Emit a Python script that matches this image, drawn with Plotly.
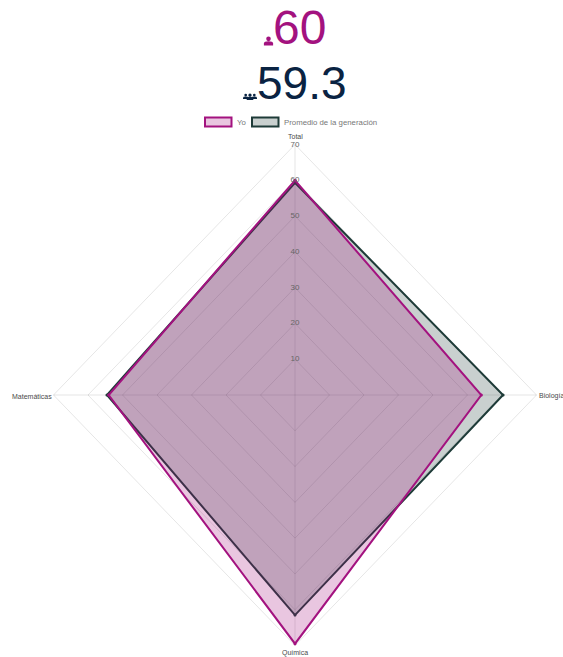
import plotly.graph_objects as go

categories = ["Total", "Biología", "Química", "Matemáticas"]
yo_values = [60, 54, 69.5, 54]
avg_values = [59.3, 60.3, 61.5, 54.5]
grid_ticks = [10, 20, 30, 40, 50, 60, 70]
yo_name = "Yo"
avg_name = "Promedio de la generación"
yo_score = "60"
avg_score = "59.3"

W, H = 563, 657
CX, CY = 295, 395
RX, RY = 241.5, 250.5
RMAX = 70
YO = "#A3127F"
AVG = "#1E3B38"
NAVY = "#0A2342"
FONT = "Liberation Sans, Arial, sans-serif"
SX = [0, 1, 0, -1]
SY = [1, 0, -1, 0]


def ring(vals):
    xs = [s * v for s, v in zip(SX, vals)]
    ys = [s * v for s, v in zip(SY, vals)]
    return xs + xs[:1], ys + ys[:1]


fig = go.Figure()
for i in range(4):
    fig.add_trace(go.Scatter(x=[0, SX[i] * RMAX], y=[0, SY[i] * RMAX], mode="lines",
                             line=dict(color="rgba(0,0,0,0.1)", width=1), hoverinfo="skip"))
for t in grid_ticks:
    x, y = ring([t] * 4)
    fig.add_trace(go.Scatter(x=x, y=y, mode="lines",
                             line=dict(color="rgba(0,0,0,0.1)", width=1), hoverinfo="skip"))
for name, vals, col, fill in [
    (avg_name, avg_values, AVG, "rgba(30,59,56,0.24)"),
    (yo_name, yo_values, YO, "rgba(163,18,127,0.24)"),
]:
    x, y = ring(vals)
    fig.add_trace(go.Scatter(x=x, y=y, mode="lines+markers", name=name, fill="toself", fillcolor=fill,
                             line=dict(color=col, width=2), marker=dict(color=col, size=3)))

fig.add_trace(go.Scatter(x=[0] * len(grid_ticks), y=grid_ticks, mode="text",
                         text=[str(t) for t in grid_ticks],
                         textfont=dict(family=FONT, size=8, color="#666666"), hoverinfo="skip"))

a = dict(xref="paper", yref="paper", showarrow=False)
def px(x): return x / W
def py(y): return 1 - y / H

LABEL = dict(family=FONT, size=7, color="#4a4a4a")
ann = [
    dict(x=px(299), y=py(27.5), text=yo_score, font=dict(family=FONT, size=48, color=YO)),
    dict(x=px(302), y=py(83), text=avg_score, font=dict(family=FONT, size=46, color=NAVY)),
    dict(x=px(295), y=py(136.5), text=categories[0], font=LABEL),
    dict(x=px(551), y=py(396), text=categories[1], font=LABEL),
    dict(x=px(295), y=py(653), text=categories[2], font=LABEL),
    dict(x=px(31.5), y=py(396), text=categories[3], font=LABEL),
    dict(x=px(236), y=py(122), text=yo_name, xanchor="left", font=dict(family=FONT, size=7.8, color="#777777")),
    dict(x=px(283), y=py(122), text=avg_name, xanchor="left", font=dict(family=FONT, size=7.8, color="#777777")),
]
for d in ann:
    d.update(a)
    d.setdefault("xanchor", "center")
    d["yanchor"] = "middle"
    d["borderpad"] = 0

shapes = [
    dict(type="rect", xref="paper", yref="paper", x0=px(205), x1=px(231.5), y0=py(117.5), y1=py(126.5),
         line=dict(color=YO, width=2), fillcolor="rgba(163,18,127,0.24)"),
    dict(type="rect", xref="paper", yref="paper", x0=px(252), x1=px(278.5), y0=py(117.5), y1=py(126.5),
         line=dict(color=AVG, width=2), fillcolor="rgba(30,59,56,0.24)"),
]


def person(cx, base, s, col):
    """Small head-and-shoulders icon; cx/base in pixels, s = half width of the shoulders."""
    r = 0.5 * s
    head_y = base - 1.45 * s
    x0, x1 = px(cx - s), px(cx + s)
    y0, ym, yt = py(base), py(base - 0.45 * s), py(base - 0.95 * s)
    path = (f"M{x0},{y0} L{x0},{ym} Q{x0},{yt} {px(cx)},{yt} Q{x1},{yt} {x1},{ym} L{x1},{y0} Z")
    return [
        dict(type="circle", xref="paper", yref="paper", x0=px(cx - r), x1=px(cx + r),
             y0=py(head_y + r), y1=py(head_y - r), fillcolor=col, line=dict(width=0)),
        dict(type="path", xref="paper", yref="paper", path=path, fillcolor=col, line=dict(width=0)),
    ]


shapes += person(268.5, 45.5, 4.6, YO)
shapes += person(245.7, 99, 2.7, NAVY) + person(254.3, 99, 2.7, NAVY) + person(250, 100, 3.3, NAVY)

fig.update_layout(
    width=W, height=H, margin=dict(l=0, r=0, t=0, b=0), showlegend=False,
    paper_bgcolor="white", plot_bgcolor="white",
    xaxis=dict(range=[-CX / RX * RMAX, (W - CX) / RX * RMAX], visible=False, fixedrange=True),
    yaxis=dict(range=[-(H - CY) / RY * RMAX, CY / RY * RMAX], visible=False, fixedrange=True),
    annotations=ann, shapes=shapes,
)
fig.write_html("out.html", config=dict(displayModeBar=False),
               post_script="document.body.style.margin='0';document.body.style.overflow='hidden';")
